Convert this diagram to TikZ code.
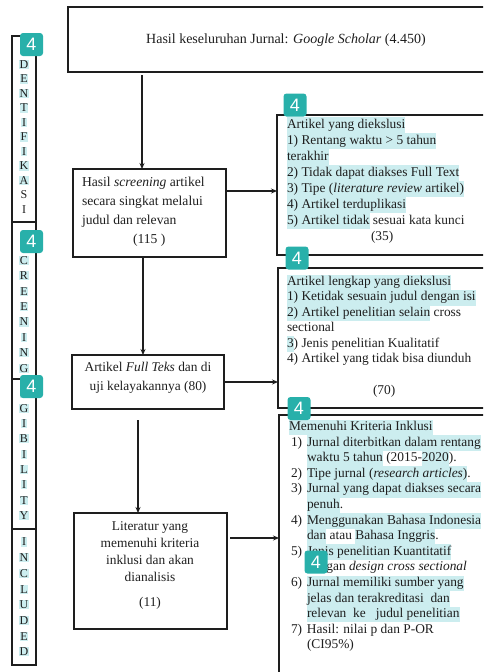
\documentclass[tikz,border=0pt]{standalone}
\usepackage{fontspec}
\setmainfont{Liberation Serif}
\newfontfamily\badgefont{Liberation Sans}
\usetikzlibrary{arrows.meta}
\definecolor{tealbadge}{RGB}{40,176,170}
\definecolor{hlc}{RGB}{204,237,239}
\definecolor{ink}{RGB}{30,30,30}
\newcommand{\hlt}[1]{{\setlength{\fboxsep}{0pt}\colorbox{hlc}{\strut #1}}}
\newcommand{\hltl}[1]{{\setlength{\fboxsep}{0.6pt}\colorbox{hlc}{#1}}}
\newcommand{\itm}[1]{\hspace*{2pt}\makebox[16pt][l]{#1}}
\newcommand{\ind}{\hspace*{18pt}}
\begin{document}
\begin{tikzpicture}[x=1pt,y=-1pt,
  every node/.style={inner sep=0pt,outer sep=0pt},
  frame/.style={draw=ink,line width=1.1pt},
  arr/.style={draw=ink,line width=1.2pt,-{Stealth[length=6pt,width=5pt]}},
  txt/.style={font=\fontsize{13.4}{16}\selectfont,text=ink},
  letter/.style={font=\fontsize{12}{13}\selectfont,text=ink},
  badge/.style={fill=tealbadge,rounded corners=3pt,minimum width=23pt,minimum height=23pt,text=white,font=\badgefont\fontsize{18}{18}\selectfont}]
\useasboundingbox (0,0) rectangle (483,672);
\begin{scope}
\clip (0,0) rectangle (483,672);
% boxes
\node[frame,minimum width=427pt,minimum height=65pt] (topb) at (281.5,39.5) {};
\node[frame,minimum width=153pt,minimum height=88pt] (scr) at (149.5,213) {};
\node[frame,minimum width=152pt,minimum height=54pt] (full) at (148,382) {};
\node[frame,minimum width=153pt,minimum height=116pt] (lit) at (150.5,571) {};
\node[frame,minimum width=218pt,minimum height=140pt] (ex1) at (386,185) {};
\node[frame,minimum width=217pt,minimum height=140pt] (ex2) at (386.5,338) {};
\node[frame,minimum width=216pt,minimum height=275pt] (ex3) at (387,552.5) {};
% left column
\node[frame,minimum width=24pt,minimum height=186pt] (colI) at (24,129) {};
\node[frame,minimum width=24pt,minimum height=157pt] (colS) at (24,300.5) {};
\node[frame,minimum width=24pt,minimum height=150pt] (colE) at (24,454) {};
\node[frame,minimum width=24pt,minimum height=136pt] (colN) at (24,597) {};
% letters
\foreach \ch [count=\i] in {I,D,E,N,T,I,F,I,K,A}
  \node[letter] (li\i) at (24,{50+(\i-1)*14.5}) {\hltl{\ch}};
\node[letter] (li11) at (24,{50+10*14.5}) {S};
\node[letter] (li12) at (24,{50+11*14.5}) {I};
\foreach \ch [count=\i] in {S,C,R,E,E,N,I,N,G}
  \node[letter] (ls\i) at (24,{245+(\i-1)*15.4}) {\hltl{\ch}};
\foreach \ch [count=\i] in {E,G,I,B,I,L,I,T,Y}
  \node[letter] (le\i) at (24,{393+(\i-1)*15.3}) {\hltl{\ch}};
\foreach \ch [count=\i] in {I,N,C,L,U,D,E,D}
  \node[letter] (ln\i) at (24,{542+(\i-1)*15.7}) {\hltl{\ch}};
% texts
\node[txt,font=\fontsize{14}{16}\selectfont] (toptxt) at (286,40) {Hasil keseluruhan Jurnal: \textit{Google Scholar} (4.450)};
\node[txt,align=left,anchor=north west,font=\fontsize{13.6}{19}\selectfont] (scrtxt) at (82,173) {\strut Hasil \textit{screening} artikel\\ \strut secara singkat melalui\\ \strut judul dan relevan\\ \strut\hspace*{51pt}(115 )};
\node[txt,align=center,anchor=north,font=\fontsize{13.4}{19}\selectfont] (fulltxt) at (148,358) {\strut Artikel \textit{Full Teks} dan di\\ \strut uji kelayakannya (80)};
\node[txt,align=center,anchor=north,font=\fontsize{13.4}{17}\selectfont] (littxt) at (150,518.5) {\strut Literatur yang\\ \strut memenuhi kriteria\\ \strut inklusi dan akan\\ \strut dianalisis\\[8pt] \strut (11)};
\node[txt,align=left,anchor=north west] (ex1txt) at (287,117.3) {\hlt{Artikel yang diekslusi}\\
\hlt{1) Rentang waktu > 5 tahun}\\
\hlt{terakhir}\\
\hlt{2) Tidak dapat diakses Full Text}\\
\hlt{3) Tipe (\textit{literature review} artikel)}\\
\hlt{4) Artikel terduplikasi}\\
\hlt{5) Artikel tidak} sesuai kata kunci\\
\strut\hspace*{84pt}(35)};
\node[txt,align=left,anchor=north west,font=\fontsize{13.4}{15.4}\selectfont] (ex2txt) at (287,274.7) {\hlt{Artikel lengkap yang diekslusi}\\
\hlt{1) Ketidak sesuain judul dengan isi}\\
\hlt{2) Artikel penelitian selain} cross\\
\strut sectional\\
\hlt{3}) Jenis penelitian Kualitatif\\
\strut 4) Artikel yang tidak bisa diunduh\\[17pt]
\strut\hspace*{86pt}(70)};
\node[txt,align=left,anchor=north west,font=\fontsize{13.4}{15.6}\selectfont] (ex3txt) at (289,419.6) {\hlt{Memenuhi Kriteria Inklusi}\\
\itm{1)}\hlt{Jurnal diterbitkan dalam rentang}\\
\ind\hlt{waktu 5 tahun} (2015-\hlt{2020}).\\
\itm{2)}\hlt{Tipe jurnal (\textit{research articles})}.\\
\itm{3)}\hlt{Jurnal yang dapat diakses secara}\\
\ind\hlt{penuh}.\\
\itm{4)}\hlt{Menggunakan Bahasa Indonesia}\\
\ind\hlt{dan} atau \hlt{Bahasa Inggris}.\\
\itm{5)}\hlt{Jenis penelitian Kuantitatif}\\
\ind\strut dengan \textit{design cross sectional}\\
\itm{6)}\hlt{Jurnal memiliki sumber yang}\\
\ind\hlt{jelas dan terakreditasi\ \ dan}\\
\ind\hlt{relevan\ \ ke\ \ \ judul penelitian}\\
\itm{7)}\strut Hasil: nilai p dan P-OR\\
\ind\strut (CI95\%)};
% arrows
\coordinate (a1s) at (142,75);
\draw[arr] (a1s) -- (a1s |- scr.north);
\coordinate (a2s) at (226,191);
\draw[arr] (a2s) -- (a2s -| ex1.west);
\coordinate (a3s) at (143,257);
\draw[arr] (a3s) -- (a3s |- full.north);
\draw[arr] (full.east) -- (full.east -| ex2.west);
\coordinate (a5s) at (138,420);
\draw[arr] (a5s) -- (a5s |- lit.north);
\coordinate (a6s) at (230,538);
\draw[arr] (a6s) -- (a6s -| ex3.west);
% badges
\node[badge] (bg1) at (31.5,44.5) {4};
\node[badge] (bg2) at (31.5,241.5) {4};
\node[badge] (bg3) at (31.5,386.5) {4};
\node[badge] (bg4) at (295,105) {4};
\node[badge] (bg5) at (297,258) {4};
\node[badge] (bg6) at (299,408.5) {4};
\node[badge] (bg7) at (316,562) {4};
\end{scope}
\end{tikzpicture}
\end{document}
